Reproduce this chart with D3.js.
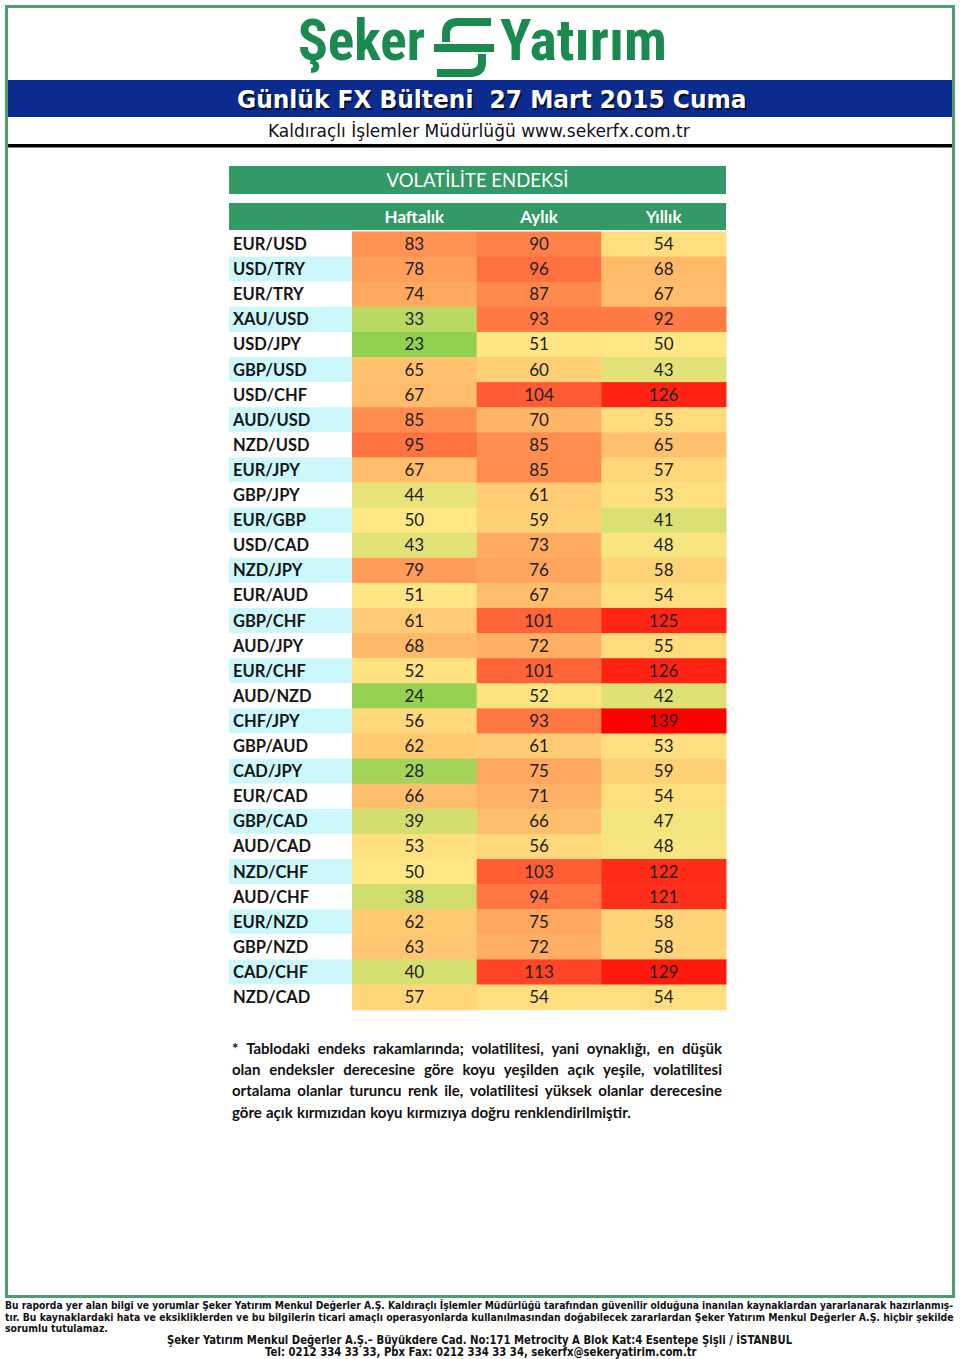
<!DOCTYPE html>
<html><head><meta charset="utf-8">
<script src="https://cdn.jsdelivr.net/npm/d3@7"></script>
<style>body{margin:0;background:#fff}svg{display:block}</style>
</head><body>
<script>
// ---- data ----
const pairs = ["EUR/USD","USD/TRY","EUR/TRY","XAU/USD","USD/JPY","GBP/USD","USD/CHF","AUD/USD","NZD/USD","EUR/JPY","GBP/JPY","EUR/GBP","USD/CAD","NZD/JPY","EUR/AUD","GBP/CHF","AUD/JPY","EUR/CHF","AUD/NZD","CHF/JPY","GBP/AUD","CAD/JPY","EUR/CAD","GBP/CAD","AUD/CAD","NZD/CHF","AUD/CHF","EUR/NZD","GBP/NZD","CAD/CHF","NZD/CAD"];
const columns = ["Haftalık","Aylık","Yıllık"];
const weekly  = [83,78,74,33,23,65,67,85,95,67,44,50,43,79,51,61,68,52,24,56,62,28,66,39,53,50,38,62,63,40,57];
const monthly = [90,96,87,93,51,60,104,70,85,85,61,59,73,76,67,101,72,101,52,93,61,75,71,66,56,103,94,75,72,113,54];
const yearly  = [54,68,67,92,50,43,126,55,65,57,53,41,48,58,54,125,55,126,42,139,53,59,54,47,48,122,121,58,58,129,54];
const seriesValues = [weekly, monthly, yearly];
const tableTitle = "VOLATİLİTE ENDEKSİ";
const noteLines = [
  "* Tablodaki endeks rakamlarında; volatilitesi, yani oynaklığı, en düşük",
  "olan endeksler derecesine göre koyu yeşilden açık yeşile, volatilitesi",
  "ortalama olanlar turuncu renk ile, volatilitesi yüksek olanlar derecesine",
  "göre açık kırmızıdan koyu kırmızıya doğru renklendirilmiştir."
];
const footerLines = [
  "Bu raporda yer alan bilgi ve yorumlar Şeker Yatırım Menkul Değerler A.Ş. Kaldıraçlı İşlemler Müdürlüğü tarafından güvenilir olduğuna inanılan kaynaklardan yararlanarak hazırlanmış-",
  "tır. Bu kaynaklardaki hata ve eksikliklerden ve bu bilgilerin ticari amaçlı operasyonlarda kullanılmasından doğabilecek zararlardan Şeker Yatırım Menkul Değerler A.Ş. hiçbir şekilde",
  "sorumlu tutulamaz."
];
const addressLines = [
  "Şeker Yatırım Menkul Değerler A.Ş.– Büyükdere Cad. No:171 Metrocity A Blok Kat:4 Esentepe Şişli / İSTANBUL",
  "Tel: 0212 334 33 33, Pbx Fax: 0212 334 33 34, sekerfx@sekeryatirim.com.tr"
];

// ---- drawing ----
const W = 960, H = 1359;
const svg = d3.select("body").append("svg").attr("width", W).attr("height", H);
svg.append("rect").attr("width", W).attr("height", H).attr("fill", "#fff");

const green = "#1a8a4f";
svg.append("rect").attr("x", 6.5).attr("y", 6.5).attr("width", 947).attr("height", 1290)
  .attr("fill", "none").attr("stroke", "#4d9e6f").attr("stroke-width", 3);

// helper: draw text scaled horizontally to a target width
function fitText(sel, x, y, width) {
  const w = sel.node().getComputedTextLength();
  sel.attr("x", 0).attr("y", 0).attr("transform", `translate(${x},${y}) scale(${width / w},1)`);
  return sel;
}

// logo
const logoFont = "'Liberation Sans Narrow','Roboto Condensed',Roboto,'Liberation Sans',sans-serif";
fitText(svg.append("text").text("Şeker").attr("font-family", logoFont).attr("font-weight", 700)
  .attr("font-size", 58).attr("fill", green), 298, 60, 127);
fitText(svg.append("text").text("Yatırım").attr("font-family", logoFont).attr("font-weight", 700)
  .attr("font-size", 58).attr("fill", green), 500, 60, 167);
const icon = svg.append("g").attr("transform", "translate(433,17)")
  .attr("fill", "none").attr("stroke", green).attr("stroke-width", 8);
icon.append("path").attr("d", "M58 5 H25 Q13 5 13 17 V25");
icon.append("path").attr("d", "M1 31 H61");
icon.append("path").attr("d", "M49 37 V45 Q49 56 37 56 H4");

// blue band
svg.append("rect").attr("x", 8).attr("y", 80).attr("width", 944).attr("height", 37).attr("fill", "#0b2c8e");
const titleT = "Günlük FX Bülteni  27 Mart 2015 Cuma";
const tf = "'DejaVu Sans',Verdana,sans-serif";
fitText(svg.append("text").text(titleT).attr("font-family", tf).attr("font-weight", 700).attr("font-size", 25)
  .attr("fill", "#000").attr("opacity", 0.7).style("white-space", "pre"), 238.5, 109.5, 510);
fitText(svg.append("text").text(titleT).attr("font-family", tf).attr("font-weight", 700).attr("font-size", 25)
  .attr("fill", "#fff").style("white-space", "pre"), 237, 108, 510);
fitText(svg.append("text").text("Kaldıraçlı İşlemler Müdürlüğü www.sekerfx.com.tr")
  .attr("font-family", "'DejaVu Sans',Tahoma,sans-serif").attr("font-size", 18).attr("fill", "#111"), 268, 137, 422);
svg.append("rect").attr("x", 8).attr("y", 144).attr("width", 944).attr("height", 3.5).attr("fill", "#000");

// table
const tFont = "Lato,'Open Sans',sans-serif";
const tableGreen = "#339966";
const x0 = 229, xLab = 352, x1 = 726;
svg.append("rect").attr("x", x0).attr("y", 166).attr("width", x1 - x0).attr("height", 28).attr("fill", tableGreen);
svg.append("text").attr("x", (x0 + x1) / 2).attr("y", 187).attr("text-anchor", "middle").text(tableTitle)
  .attr("font-family", tFont).attr("font-size", 18.5).attr("fill", "#fff");
svg.append("rect").attr("x", x0).attr("y", 203).attr("width", x1 - x0).attr("height", 27).attr("fill", tableGreen);

const xCol = d3.scaleBand().domain(columns).range([xLab, x1]);
const yRow = d3.scaleBand().domain(pairs).range([231.5, 1009.6]);
svg.selectAll("text.hdr").data(columns).join("text").attr("class", "hdr")
  .attr("x", d => xCol(d) + xCol.bandwidth() / 2).attr("y", 223).attr("text-anchor", "middle")
  .text(d => d).attr("font-family", tFont).attr("font-size", 17).attr("font-weight", 700).attr("fill", "#fff");

const color = d3.scaleLinear().domain([23, 50, 139]).range(["#92d050", "#ffe884", "#ff0000"]).clamp(true);

const rows = svg.selectAll("g.row").data(pairs).join("g").attr("class", "row")
  .attr("transform", d => `translate(0,${yRow(d)})`);
rows.append("rect").attr("x", x0).attr("width", xLab - x0).attr("height", yRow.bandwidth())
  .attr("fill", (d, i) => i % 2 ? "#ccf8fb" : "#fff");
rows.append("text").attr("x", 233).attr("y", yRow.bandwidth() / 2 + 6).text(d => d)
  .attr("font-family", tFont).attr("font-weight", 700).attr("font-size", 16.5).attr("fill", "#161616");

rows.each(function(p, i) {
  const g = d3.select(this);
  const cells = columns.map((c, j) => ({ c, v: seriesValues[j][i] }));
  g.selectAll("rect.cell").data(cells).join("rect").attr("class", "cell")
    .attr("x", d => xCol(d.c)).attr("width", xCol.bandwidth() + 0.5).attr("height", yRow.bandwidth() + 0.5)
    .attr("fill", d => color(d.v));
  g.selectAll("text.val").data(cells).join("text").attr("class", "val")
    .attr("x", d => xCol(d.c) + xCol.bandwidth() / 2).attr("y", yRow.bandwidth() / 2 + 6)
    .attr("text-anchor", "middle").text(d => d.v)
    .attr("font-family", tFont).attr("font-size", 17).attr("fill", "#222");
});

// footnote, justified
const nx0 = 232, nx1 = 722;
noteLines.forEach((line, li) => {
  const words = line.split(" ");
  const y = 1054 + li * 21.2;
  const ts = words.map(w => svg.append("text").attr("y", y).text(w)
    .attr("font-family", tFont).attr("font-weight", 700).attr("font-size", 15).attr("fill", "#111"));
  const widths = ts.map(t => t.node().getComputedTextLength());
  const total = d3.sum(widths);
  const last = li === noteLines.length - 1;
  const gap = last ? 4.2 : (nx1 - nx0 - total) / (words.length - 1);
  let x = nx0;
  ts.forEach((t, k) => { t.attr("x", x); x += widths[k] + gap; });
});

// footer
const fFont = "'DejaVu Sans',Tahoma,Verdana,sans-serif";
const fSpecs = [[5, 1309, 949], [5, 1321, 949], [5, 1332, 103]];
footerLines.forEach((l, i) => {
  fitText(svg.append("text").text(l).attr("font-family", fFont).attr("font-weight", 700)
    .attr("font-size", 11).attr("fill", "#111"), fSpecs[i][0], fSpecs[i][1], fSpecs[i][2]);
});
const aSpecs = [[167, 1344, 626], [265, 1356, 432]];
addressLines.forEach((l, i) => {
  fitText(svg.append("text").text(l).attr("font-family", fFont).attr("font-weight", 700)
    .attr("font-size", 11.5).attr("fill", "#111"), aSpecs[i][0], aSpecs[i][1], aSpecs[i][2]);
});
</script>
</body></html>
